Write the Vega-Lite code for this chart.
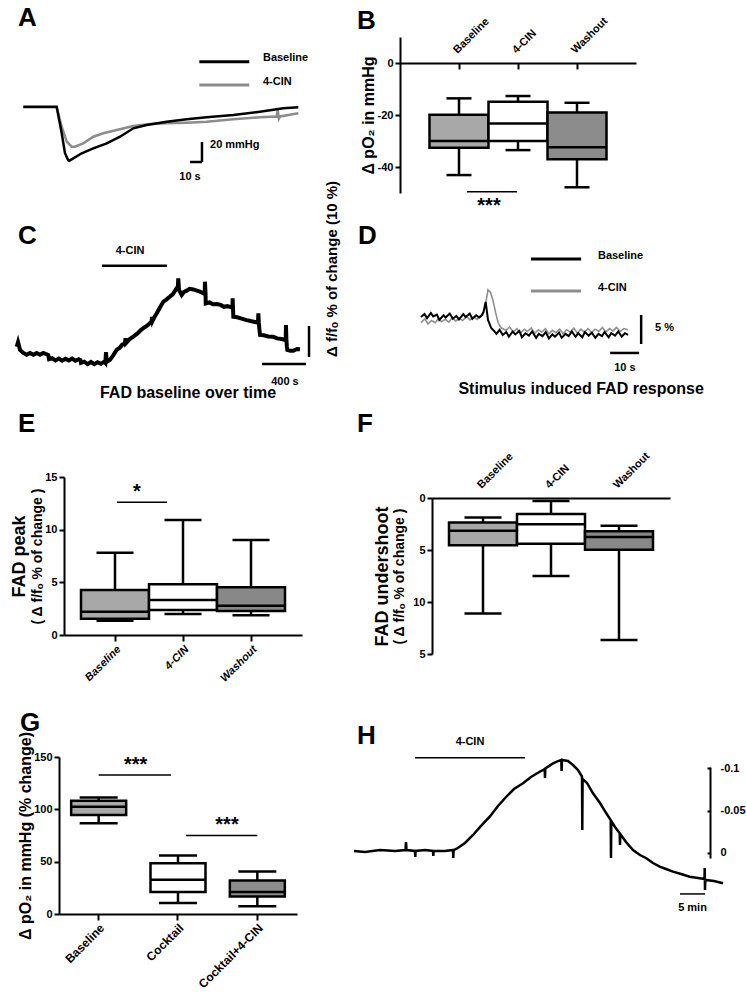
{
"$schema":"https://vega.github.io/schema/vega-lite/v6.json",
"padding":0,
"background":"white",
"columns":2,
"spacing":0,
"bounds":"flush",
"resolve":{"scale":{"color":"independent","fill":"independent","strokeWidth":"independent"}},
"config":{
 "font":"Liberation Sans",
 "view":{"stroke":null},
 "text":{"font":"Liberation Sans","fontWeight":"bold","fontSize":11,"color":"black"},
 "title":{"anchor":"start","frame":"group","baseline":"bottom","fontSize":26,"fontWeight":"bold","font":"Liberation Sans","color":"black"},
 "axis":{"grid":false,"domainColor":"black","domainWidth":2,"tickColor":"black","tickWidth":2,"tickSize":5,"labelColor":"black","labelFont":"Liberation Sans","labelFontSize":11,"labelFontWeight":"bold","labelPadding":2,"titleColor":"black","titleFont":"Liberation Sans","titleFontWeight":"bold","titleFontSize":16,"labelOverlap":false}
},
"concat":[
{
 "width":340,"height":170,
 "title":{"text":"A","dx":18,"offset":-31},
 "encoding":{
  "x":{"field":"t","type":"quantitative","scale":{"domain":[0,230],"range":[23.3,299.3],"nice":false,"zero":false},"axis":null},
  "y":{"field":"v","type":"quantitative","scale":{"domain":[-60,60],"range":[166.7,46.7],"nice":false,"zero":false},"axis":null}},
 "layer":[
  {"data":{"values":[
   {"s":"4-CIN","t":0,"v":-0.5},{"s":"4-CIN","t":27.8,"v":-0.5},{"s":"4-CIN","t":32,"v":-20},{"s":"4-CIN","t":36.2,"v":-35},{"s":"4-CIN","t":40.3,"v":-40},{"s":"4-CIN","t":43,"v":-40},{"s":"4-CIN","t":50,"v":-36.6},{"s":"4-CIN","t":58.3,"v":-30},{"s":"4-CIN","t":66.7,"v":-26.6},{"s":"4-CIN","t":77.8,"v":-23.3},{"s":"4-CIN","t":91.7,"v":-19.3},{"s":"4-CIN","t":105.5,"v":-17.3},{"s":"4-CIN","t":119.5,"v":-16.6},{"s":"4-CIN","t":136.2,"v":-16},{"s":"4-CIN","t":152.8,"v":-15},{"s":"4-CIN","t":175,"v":-12.6},{"s":"4-CIN","t":197.2,"v":-10.6},{"s":"4-CIN","t":211,"v":-9.8},{"s":"4-CIN","t":212,"v":-3.5},{"s":"4-CIN","t":213,"v":-12},{"s":"4-CIN","t":214,"v":-9.8},{"s":"4-CIN","t":229.2,"v":-6.6},
   {"s":"Baseline","t":0,"v":0},{"s":"Baseline","t":27.8,"v":0},{"s":"Baseline","t":32,"v":-26.6},{"s":"Baseline","t":34.7,"v":-46.3},{"s":"Baseline","t":37.3,"v":-53.3},{"s":"Baseline","t":38.3,"v":-54},{"s":"Baseline","t":41.7,"v":-51.6},{"s":"Baseline","t":48.7,"v":-46.6},{"s":"Baseline","t":58.3,"v":-41.6},{"s":"Baseline","t":69.5,"v":-36.6},{"s":"Baseline","t":80.6,"v":-30},{"s":"Baseline","t":91.7,"v":-21.6},{"s":"Baseline","t":102.8,"v":-18.3},{"s":"Baseline","t":119.5,"v":-15},{"s":"Baseline","t":136.2,"v":-12.6},{"s":"Baseline","t":152.8,"v":-10.6},{"s":"Baseline","t":175,"v":-8.3},{"s":"Baseline","t":197.2,"v":-5},{"s":"Baseline","t":216.7,"v":-1.6},{"s":"Baseline","t":229.2,"v":-0.6}]},
   "mark":{"type":"line","strokeWidth":2.5},
   "encoding":{"color":{"field":"s","type":"nominal","scale":{"domain":["Baseline","4-CIN"],"range":["#000000","#8c8c8c"]},"legend":null}}},
  {"data":{"values":[{"s":"Baseline","t":146.7,"t2":188.3,"v":45},{"s":"4-CIN","t":146.7,"t2":188.3,"v":21.7}]},
   "mark":{"type":"rule","strokeWidth":3},
   "encoding":{"x2":{"field":"t2"},"color":{"field":"s","type":"nominal","scale":{"domain":["Baseline","4-CIN"],"range":["#000000","#8c8c8c"]},"legend":null}}},
  {"data":{"values":[{"t":148.9,"v":-35.3,"t2":148.9,"v2":-55.3},{"t":138.9,"v":-55.3,"t2":148.9,"v2":-55.3}]},
   "mark":{"type":"rule","color":"black","strokeWidth":2.5},
   "encoding":{"x2":{"field":"t2"},"y2":{"field":"v2"}}},
  {"data":{"values":[{"t":199.7,"v":48.7,"label":"Baseline"},{"t":199.7,"v":24.7,"label":"4-CIN"},{"t":155.6,"v":-38.3,"label":"20 mmHg"}]},
   "mark":{"type":"text","align":"left"},"encoding":{"text":{"field":"label"}}},
  {"data":{"values":[{"t":138.9,"v":-70.3,"label":"10 s"}]},
   "mark":{"type":"text"},"encoding":{"text":{"field":"label"}}}
 ]
},
{
 "width":406,"height":170,
 "title":{"text":"B","dx":17,"offset":-34},
 "data":{"values":[
  {"g":"Baseline","low":-43.1,"q1":-32.6,"med":-30,"q3":-19.9,"high":-13.6},
  {"g":"4-CIN","low":-33.5,"q1":-30,"med":-23.3,"q3":-14.9,"high":-12.7},
  {"g":"Washout","low":-47.8,"q1":-37,"med":-32.4,"q3":-19,"high":-15.3}]},
 "encoding":{"x":{"field":"g","type":"nominal","scale":{"type":"band","domain":["Baseline","4-CIN","Washout"],"range":[60,296],"paddingInner":0,"paddingOuter":0.5},"axis":null}},
 "resolve":{"axis":{"x":"independent","y":"independent"}},
 "layer":[
  {"mark":{"type":"rule","color":"black","strokeWidth":2.5},
   "encoding":{
    "x":{"field":"g","type":"nominal","scale":{"type":"band","domain":["Baseline","4-CIN","Washout"],"range":[60,296],"paddingInner":0,"paddingOuter":0.5},
      "axis":{"orient":"top","offset":-63,"title":null,"labelAngle":-45,"tickSize":-6,"labelPadding":14}},
    "y":{"field":"low","type":"quantitative","scale":{"domain":[-50,10],"range":[193,37],"nice":false,"zero":false},
     "axis":{"orient":"left","offset":-60,"values":[0,-20,-40],"title":"Δ pO₂ in mmHg","titlePadding":1,"labelExpr":"replace(datum.label,'\u2212','-')"}},"y2":{"field":"high"}}},
  {"mark":{"type":"tick","color":"black","opacity":1,"size":25,"thickness":2.5},
   "encoding":{"y":{"field":"low","type":"quantitative","scale":{"domain":[-50,10],"range":[193,37],"nice":false,"zero":false},"axis":null}}},
  {"mark":{"type":"tick","color":"black","opacity":1,"size":25,"thickness":2.5},
   "encoding":{"y":{"field":"high","type":"quantitative","scale":{"domain":[-50,10],"range":[193,37],"nice":false,"zero":false},"axis":null}}},
  {"mark":{"type":"bar","stroke":"black","strokeWidth":2.5,"opacity":1},
   "encoding":{"y":{"field":"q1","type":"quantitative","scale":{"domain":[-50,10],"range":[193,37],"nice":false,"zero":false},"axis":null},"y2":{"field":"q3"},
    "fill":{"field":"g","type":"nominal","scale":{"domain":["Baseline","4-CIN","Washout"],"range":["#a8a8a8","#ffffff","#8c8c8c"]},"legend":null}}},
  {"mark":{"type":"tick","color":"black","opacity":1,"size":59,"thickness":2.5},
   "encoding":{"y":{"field":"med","type":"quantitative","scale":{"domain":[-50,10],"range":[193,37],"nice":false,"zero":false},"axis":null}}},
  {"data":{"values":[{"a":"Baseline","b":"4-CIN","v":-49.5}]},
   "mark":{"type":"rule","color":"black","strokeWidth":1.5,"xOffset":8,"x2Offset":-1},
   "encoding":{"x":{"field":"a","type":"nominal","scale":{"type":"band","domain":["Baseline","4-CIN","Washout"],"range":[60,296],"paddingInner":0,"paddingOuter":0.5},"axis":null},"x2":{"field":"b"},
    "y":{"field":"v","type":"quantitative","scale":{"domain":[-50,10],"range":[193,37],"nice":false,"zero":false},"axis":null}}},
  {"data":{"values":[{"a":"Baseline","label":"***","v":-55}]},
   "mark":{"type":"text","fontSize":20,"dx":30},
   "encoding":{"x":{"field":"a","type":"nominal","scale":{"type":"band","domain":["Baseline","4-CIN","Washout"],"range":[60,296],"paddingInner":0,"paddingOuter":0.5},"axis":null},
    "y":{"field":"v","type":"quantitative","scale":{"domain":[-50,10],"range":[193,37],"nice":false,"zero":false},"axis":null},"text":{"field":"label"}}}
 ]
},
{
 "width":340,"height":230,
 "title":{"text":"C","dx":18,"offset":-79},
 "encoding":{
  "x":{"field":"t","type":"quantitative","scale":{"domain":[0,2600],"range":[16.7,304.8],"nice":false,"zero":false},"axis":null},
  "y":{"field":"v","type":"quantitative","scale":{"domain":[0,10],"range":[187,156],"nice":false,"zero":false},"axis":null}},
 "layer":[
  {"data":{"values":[
   {"t":0,"v":3.3},{"t":12,"v":4.8},{"t":30,"v":2.3},{"t":60,"v":1.3},{"t":90,"v":0.7},{"t":120,"v":1.3},{"t":150,"v":0.7},{"t":180,"v":1.3},{"t":210,"v":0.7},{"t":240,"v":1.3},{"t":270,"v":0.9},{"t":285,"v":0.6},{"t":292,"v":-0.7},{"t":320,"v":-0.4},{"t":350,"v":-1.1},{"t":380,"v":-0.5},{"t":410,"v":-1.2},{"t":440,"v":-0.6},{"t":470,"v":-1.1},{"t":500,"v":-0.5},{"t":530,"v":-1.2},{"t":560,"v":-0.7},{"t":575,"v":-1.0},{"t":580,"v":-1.9},{"t":610,"v":-1.5},{"t":640,"v":-2.3},{"t":670,"v":-1.6},{"t":700,"v":-2.3},{"t":730,"v":-1.7},{"t":760,"v":-2.2},{"t":790,"v":-1.5},{"t":800,"v":-1.9},{"t":806,"v":1.6},{"t":812,"v":-1.6},{"t":842,"v":-0.9},{"t":872,"v":0.6},{"t":902,"v":2.3},{"t":930,"v":3.0},{"t":950,"v":3.9},{"t":977,"v":4.4},{"t":982,"v":6.1},{"t":986,"v":4.5},{"t":1020,"v":5.8},{"t":1052,"v":6.6},{"t":1090,"v":7.6},{"t":1120,"v":8.7},{"t":1143,"v":9.3},{"t":1180,"v":10.2},{"t":1210,"v":11.2},{"t":1218,"v":11.4},{"t":1221,"v":12.9},{"t":1226,"v":11.6},{"t":1245,"v":13.0},{"t":1264,"v":14.1},{"t":1290,"v":15.8},{"t":1323,"v":17.8},{"t":1350,"v":18.5},{"t":1384,"v":19.5},{"t":1410,"v":20.3},{"t":1444,"v":22.2},{"t":1455,"v":22.8},{"t":1458,"v":25.4},{"t":1465,"v":21.6},{"t":1489,"v":20.0},{"t":1510,"v":21.0},{"t":1534,"v":21.4},{"t":1560,"v":22.0},{"t":1594,"v":21.8},{"t":1620,"v":21.5},{"t":1654,"v":21.1},{"t":1690,"v":20.5},{"t":1697,"v":20.6},{"t":1699,"v":24.3},{"t":1704,"v":20.6},{"t":1706,"v":17.3},{"t":1740,"v":17.6},{"t":1770,"v":17.0},{"t":1805,"v":17.1},{"t":1840,"v":16.8},{"t":1870,"v":16.2},{"t":1900,"v":16.4},{"t":1940,"v":16.0},{"t":1947,"v":16.1},{"t":1949,"v":18.9},{"t":1952,"v":15.8},{"t":1955,"v":13.0},{"t":1990,"v":12.8},{"t":2030,"v":12.4},{"t":2076,"v":11.9},{"t":2110,"v":11.6},{"t":2150,"v":11.3},{"t":2178,"v":11.1},{"t":2181,"v":14.1},{"t":2185,"v":11.0},{"t":2190,"v":9.0},{"t":2196,"v":7.1},{"t":2230,"v":7.0},{"t":2270,"v":6.6},{"t":2316,"v":6.5},{"t":2350,"v":6.0},{"t":2390,"v":5.8},{"t":2421,"v":5.5},{"t":2428,"v":5.6},{"t":2430,"v":10.3},{"t":2434,"v":5.4},{"t":2438,"v":3.5},{"t":2442,"v":2.3},{"t":2470,"v":2.0},{"t":2496,"v":2.0},{"t":2530,"v":2.6},{"t":2557,"v":2.5}]},
   "mark":{"type":"line","color":"black","strokeWidth":4}},
  {"data":{"values":[{"t":770,"v":29.4,"t2":1357,"v2":29.4},{"t":2638,"v":0,"t2":2638,"v2":10},{"t":2214,"v":-2.26,"t2":2611,"v2":-2.26}]},
   "mark":{"type":"rule","color":"black","strokeWidth":2.5},
   "encoding":{"x2":{"field":"t2"},"y2":{"field":"v2"}}},
  {"data":{"values":[{"t":1023,"v":34.2,"label":"4-CIN"},{"t":2421,"v":-8.06,"label":"400 s"}]},
   "mark":{"type":"text"},"encoding":{"text":{"field":"label"}}},
  {"data":{"values":[{"t":1546,"v":-11.6,"label":"FAD baseline over time"}]},
   "mark":{"type":"text","fontSize":16},"encoding":{"text":{"field":"label"}}},
  {"data":{"values":[{"t":2846,"v":28.4,"label":"Δ f/fₒ % of change (10 %)"}]},
   "mark":{"type":"text","fontSize":15,"angle":270},"encoding":{"text":{"field":"label"}}}
 ]
},
{
 "width":406,"height":230,
 "title":{"text":"D","dx":18,"offset":-79},
 "encoding":{
  "x":{"field":"t","type":"quantitative","scale":{"domain":[0,71.4],"range":[81,288.1],"nice":false,"zero":false},"axis":null},
  "y":{"field":"v","type":"quantitative","scale":{"domain":[0,5],"range":[147,118],"nice":false,"zero":false},"axis":null}},
 "layer":[
  {"data":{"values":[
   {"s":"4-CIN","t":0,"v":-1.0},{"s":"4-CIN","t":1.3,"v":-0.3},{"s":"4-CIN","t":2.4,"v":-1.2},{"s":"4-CIN","t":3.6,"v":-0.6},{"s":"4-CIN","t":4.9,"v":-1.0},{"s":"4-CIN","t":6.1,"v":-0.2},{"s":"4-CIN","t":7.0,"v":-0.8},{"s":"4-CIN","t":8.4,"v":-0.4},{"s":"4-CIN","t":9.6,"v":-0.9},{"s":"4-CIN","t":10.8,"v":-0.1},{"s":"4-CIN","t":11.9,"v":-0.7},{"s":"4-CIN","t":13.3,"v":-0.3},{"s":"4-CIN","t":14.4,"v":-0.6},{"s":"4-CIN","t":15.7,"v":0.1},{"s":"4-CIN","t":16.9,"v":-0.5},{"s":"4-CIN","t":18.2,"v":0.0},{"s":"4-CIN","t":19.4,"v":-0.4},{"s":"4-CIN","t":20.4,"v":0.2},{"s":"4-CIN","t":21.2,"v":0.3},{"s":"4-CIN","t":22,"v":1.5},{"s":"4-CIN","t":23.1,"v":4.7},{"s":"4-CIN","t":24,"v":4.2},{"s":"4-CIN","t":24.8,"v":2.9},{"s":"4-CIN","t":25.7,"v":0.8},{"s":"4-CIN","t":26.6,"v":-1.0},{"s":"4-CIN","t":27.7,"v":-1.9},{"s":"4-CIN","t":29.3,"v":-2.3},{"s":"4-CIN","t":30.5,"v":-1.7},{"s":"4-CIN","t":31.8,"v":-2.6},{"s":"4-CIN","t":33.1,"v":-2.0},{"s":"4-CIN","t":34.2,"v":-2.8},{"s":"4-CIN","t":35.6,"v":-2.1},{"s":"4-CIN","t":36.7,"v":-2.5},{"s":"4-CIN","t":38.0,"v":-1.9},{"s":"4-CIN","t":39.2,"v":-2.8},{"s":"4-CIN","t":40.5,"v":-2.2},{"s":"4-CIN","t":41.6,"v":-2.6},{"s":"4-CIN","t":42.9,"v":-2.0},{"s":"4-CIN","t":44.1,"v":-2.9},{"s":"4-CIN","t":45.3,"v":-2.3},{"s":"4-CIN","t":46.5,"v":-2.7},{"s":"4-CIN","t":47.8,"v":-2.1},{"s":"4-CIN","t":49.0,"v":-2.9},{"s":"4-CIN","t":50.2,"v":-2.2},{"s":"4-CIN","t":51.5,"v":-2.6},{"s":"4-CIN","t":52.7,"v":-1.9},{"s":"4-CIN","t":53.9,"v":-2.8},{"s":"4-CIN","t":55.1,"v":-2.1},{"s":"4-CIN","t":56.3,"v":-2.6},{"s":"4-CIN","t":57.6,"v":-2.0},{"s":"4-CIN","t":58.8,"v":-2.7},{"s":"4-CIN","t":60.0,"v":-2.1},{"s":"4-CIN","t":61.3,"v":-2.5},{"s":"4-CIN","t":62.5,"v":-1.8},{"s":"4-CIN","t":63.7,"v":-2.6},{"s":"4-CIN","t":65.0,"v":-2.0},{"s":"4-CIN","t":66.2,"v":-2.4},{"s":"4-CIN","t":67.4,"v":-1.8},{"s":"4-CIN","t":68.7,"v":-2.5},{"s":"4-CIN","t":69.9,"v":-2.0},{"s":"4-CIN","t":71.4,"v":-2.2},
   {"s":"Baseline","t":0,"v":0},{"s":"Baseline","t":1.2,"v":0.5},{"s":"Baseline","t":2.1,"v":-0.2},{"s":"Baseline","t":3.4,"v":0.7},{"s":"Baseline","t":4.2,"v":0.1},{"s":"Baseline","t":5.5,"v":0.4},{"s":"Baseline","t":6.3,"v":-0.5},{"s":"Baseline","t":7.8,"v":0.3},{"s":"Baseline","t":8.5,"v":-0.1},{"s":"Baseline","t":9.9,"v":0.6},{"s":"Baseline","t":11.0,"v":-0.3},{"s":"Baseline","t":12.2,"v":0.2},{"s":"Baseline","t":13.1,"v":-0.4},{"s":"Baseline","t":14.6,"v":0.5},{"s":"Baseline","t":15.4,"v":0.0},{"s":"Baseline","t":16.8,"v":0.6},{"s":"Baseline","t":17.7,"v":-0.3},{"s":"Baseline","t":19.0,"v":0.3},{"s":"Baseline","t":20.1,"v":-0.1},{"s":"Baseline","t":20.8,"v":0.2},{"s":"Baseline","t":21.5,"v":0.8},{"s":"Baseline","t":22.3,"v":2.6},{"s":"Baseline","t":23.1,"v":-0.5},{"s":"Baseline","t":24.2,"v":-1.9},{"s":"Baseline","t":25.2,"v":-2.4},{"s":"Baseline","t":26,"v":-2.9},{"s":"Baseline","t":27.1,"v":-2.2},{"s":"Baseline","t":28.2,"v":-3.1},{"s":"Baseline","t":29.4,"v":-2.6},{"s":"Baseline","t":30.3,"v":-3.4},{"s":"Baseline","t":31.6,"v":-2.5},{"s":"Baseline","t":32.5,"v":-3.0},{"s":"Baseline","t":33.9,"v":-2.4},{"s":"Baseline","t":34.8,"v":-3.5},{"s":"Baseline","t":36.0,"v":-2.8},{"s":"Baseline","t":37.2,"v":-3.2},{"s":"Baseline","t":38.3,"v":-2.5},{"s":"Baseline","t":39.7,"v":-3.6},{"s":"Baseline","t":40.6,"v":-2.9},{"s":"Baseline","t":41.9,"v":-3.3},{"s":"Baseline","t":43.0,"v":-2.6},{"s":"Baseline","t":44.1,"v":-3.7},{"s":"Baseline","t":45.3,"v":-3.0},{"s":"Baseline","t":46.2,"v":-3.4},{"s":"Baseline","t":47.6,"v":-2.7},{"s":"Baseline","t":48.5,"v":-3.6},{"s":"Baseline","t":49.8,"v":-2.9},{"s":"Baseline","t":50.9,"v":-3.3},{"s":"Baseline","t":52.0,"v":-2.5},{"s":"Baseline","t":53.3,"v":-3.4},{"s":"Baseline","t":54.2,"v":-2.8},{"s":"Baseline","t":55.6,"v":-3.5},{"s":"Baseline","t":56.5,"v":-2.6},{"s":"Baseline","t":57.8,"v":-3.2},{"s":"Baseline","t":58.9,"v":-2.7},{"s":"Baseline","t":60.1,"v":-3.6},{"s":"Baseline","t":61.2,"v":-2.9},{"s":"Baseline","t":62.4,"v":-3.3},{"s":"Baseline","t":63.3,"v":-2.6},{"s":"Baseline","t":64.7,"v":-3.5},{"s":"Baseline","t":65.6,"v":-2.8},{"s":"Baseline","t":66.9,"v":-3.2},{"s":"Baseline","t":68.0,"v":-2.5},{"s":"Baseline","t":69.2,"v":-3.4},{"s":"Baseline","t":70.3,"v":-2.8},{"s":"Baseline","t":71.4,"v":-3.1}]},
   "mark":{"type":"line"},
   "encoding":{"color":{"field":"s","type":"nominal","scale":{"domain":["Baseline","4-CIN"],"range":["#000000","#8f8f8f"]},"legend":null},
    "strokeWidth":{"field":"s","type":"nominal","scale":{"domain":["Baseline","4-CIN"],"range":[2,1.6]},"legend":null}}},
  {"data":{"values":[{"s":"Baseline","t":37.9,"t2":55.2,"v":10.0},{"s":"4-CIN","t":37.9,"t2":55.2,"v":4.48}]},
   "mark":{"type":"rule","strokeWidth":3},
   "encoding":{"x2":{"field":"t2"},"color":{"field":"s","type":"nominal","scale":{"domain":["Baseline","4-CIN"],"range":["#000000","#8f8f8f"]},"legend":null}}},
  {"data":{"values":[{"t":75.9,"v":0.34,"t2":75.9,"v2":-4.66},{"t":65.2,"v":-6.2,"t2":75.2,"v2":-6.2}]},
   "mark":{"type":"rule","color":"black","strokeWidth":2.5},
   "encoding":{"x2":{"field":"t2"},"y2":{"field":"v2"}}},
  {"data":{"values":[{"t":61.0,"v":10.5,"label":"Baseline"},{"t":61.0,"v":5.0,"label":"4-CIN"},{"t":80.7,"v":-1.9,"label":"5 %"}]},
   "mark":{"type":"text","align":"left"},"encoding":{"text":{"field":"label"}}},
  {"data":{"values":[{"t":70.3,"v":-8.8,"label":"10 s"}]},
   "mark":{"type":"text"},"encoding":{"text":{"field":"label"}}},
  {"data":{"values":[{"t":55.2,"v":-12.4,"label":"Stimulus induced FAD response"}]},
   "mark":{"type":"text","fontSize":16},"encoding":{"text":{"field":"label"}}}
 ]
},
{
 "width":340,"height":305,
 "title":{"text":"E","dx":18,"offset":-37},
 "data":{"values":[
  {"g":"Baseline","low":1.36,"q1":1.55,"med":2.21,"q3":4.27,"high":7.82},
  {"g":"4-CIN","low":1.99,"q1":2.37,"med":3.32,"q3":4.81,"high":10.92},
  {"g":"Washout","low":1.87,"q1":2.28,"med":2.78,"q3":4.53,"high":9.02}]},
 "encoding":{"x":{"field":"g","type":"nominal","scale":{"type":"band","domain":["Baseline","4-CIN","Washout"],"range":[64,302],"paddingInner":0,"paddingOuter":0.25},"axis":null}},
 "resolve":{"axis":{"x":"independent","y":"independent"}},
 "layer":[
  {"mark":{"type":"rule","color":"black","strokeWidth":2.5},
   "encoding":{
    "x":{"field":"g","type":"nominal","scale":{"type":"band","domain":["Baseline","4-CIN","Washout"],"range":[64,302],"paddingInner":0,"paddingOuter":0.25},
      "axis":{"orient":"bottom","offset":-70,"title":null,"labelAngle":-45,"tickSize":6,"labelFontStyle":"italic"}},
    "y":{"field":"low","type":"quantitative","scale":{"domain":[0,15],"range":[235,77],"nice":false,"zero":false},
     "axis":{"orient":"left","offset":-64,"values":[0,5,10,15],"title":"( Δ f/fₒ % of change )","titleFontSize":14,"titlePadding":0}},"y2":{"field":"high"}}},
  {"mark":{"type":"tick","color":"black","opacity":1,"size":37,"thickness":2.5},
   "encoding":{"y":{"field":"low","type":"quantitative","scale":{"domain":[0,15],"range":[235,77],"nice":false,"zero":false},
     "axis":{"orient":"left","offset":-64,"labels":false,"ticks":false,"domain":false,"title":"FAD peak","titleFontSize":18,"titlePadding":36}}}},
  {"mark":{"type":"tick","color":"black","opacity":1,"size":37,"thickness":2.5},
   "encoding":{"y":{"field":"high","type":"quantitative","scale":{"domain":[0,15],"range":[235,77],"nice":false,"zero":false},"axis":null}}},
  {"mark":{"type":"bar","stroke":"black","strokeWidth":2.5,"opacity":1},
   "encoding":{"y":{"field":"q1","type":"quantitative","scale":{"domain":[0,15],"range":[235,77],"nice":false,"zero":false},"axis":null},"y2":{"field":"q3"},
    "fill":{"field":"g","type":"nominal","scale":{"domain":["Baseline","4-CIN","Washout"],"range":["#a8a8a8","#ffffff","#888888"]},"legend":null}}},
  {"mark":{"type":"tick","color":"black","opacity":1,"size":68,"thickness":2.5},
   "encoding":{"y":{"field":"med","type":"quantitative","scale":{"domain":[0,15],"range":[235,77],"nice":false,"zero":false},"axis":null}}},
  {"data":{"values":[{"a":"Baseline","b":"4-CIN","v":12.6}]},
   "mark":{"type":"rule","color":"black","strokeWidth":1.5,"xOffset":2,"x2Offset":-16},
   "encoding":{"x":{"field":"a","type":"nominal","scale":{"type":"band","domain":["Baseline","4-CIN","Washout"],"range":[64,302],"paddingInner":0,"paddingOuter":0.25},"axis":null},"x2":{"field":"b"},
    "y":{"field":"v","type":"quantitative","scale":{"domain":[0,15],"range":[235,77],"nice":false,"zero":false},"axis":null}}},
  {"data":{"values":[{"a":"Baseline","label":"*","v":13.6}]},
   "mark":{"type":"text","fontSize":20,"dx":22},
   "encoding":{"x":{"field":"a","type":"nominal","scale":{"type":"band","domain":["Baseline","4-CIN","Washout"],"range":[64,302],"paddingInner":0,"paddingOuter":0.25},"axis":null},
    "y":{"field":"v","type":"quantitative","scale":{"domain":[0,15],"range":[235,77],"nice":false,"zero":false},"axis":null},"text":{"field":"label"}}}
 ]
},
{
 "width":406,"height":305,
 "title":{"text":"F","dx":17,"offset":-37},
 "data":{"values":[
  {"g":"Baseline","low":1.88,"q1":2.36,"med":3.15,"q3":4.55,"high":11.1},
  {"g":"4-CIN","low":0.29,"q1":1.53,"med":2.52,"q3":4.4,"high":7.5},
  {"g":"Washout","low":2.67,"q1":3.2,"med":3.75,"q3":4.97,"high":13.66}]},
 "encoding":{"x":{"field":"g","type":"nominal","scale":{"type":"band","domain":["Baseline","4-CIN","Washout"],"range":[92,330],"paddingInner":0,"paddingOuter":0.25},"axis":null}},
 "resolve":{"axis":{"x":"independent","y":"independent"}},
 "layer":[
  {"mark":{"type":"rule","color":"black","strokeWidth":2.5},
   "encoding":{
    "x":{"field":"g","type":"nominal","scale":{"type":"band","domain":["Baseline","4-CIN","Washout"],"range":[92,330],"paddingInner":0,"paddingOuter":0.25},
      "axis":{"orient":"top","offset":-98,"title":null,"labelAngle":-45,"ticks":false,"labelPadding":8}},
    "y":{"field":"low","type":"quantitative","scale":{"domain":[0,15],"range":[98,254],"nice":false,"zero":false},
     "axis":{"orient":"left","offset":-92,"values":[0,5,10,15],"labelExpr":"datum.value == 15 ? '5' : datum.label","title":"( Δ f/fₒ % of change )","titleFontSize":14,"titlePadding":6}},"y2":{"field":"high"}}},
  {"mark":{"type":"tick","color":"black","opacity":1,"size":37,"thickness":2.5},
   "encoding":{"y":{"field":"low","type":"quantitative","scale":{"domain":[0,15],"range":[98,254],"nice":false,"zero":false},
     "axis":{"orient":"left","offset":-92,"labels":false,"ticks":false,"domain":false,"title":"FAD undershoot","titleFontSize":18,"titlePadding":41}}}},
  {"mark":{"type":"tick","color":"black","opacity":1,"size":37,"thickness":2.5},
   "encoding":{"y":{"field":"high","type":"quantitative","scale":{"domain":[0,15],"range":[98,254],"nice":false,"zero":false},"axis":null}}},
  {"mark":{"type":"bar","stroke":"black","strokeWidth":2.5,"opacity":1},
   "encoding":{"y":{"field":"q1","type":"quantitative","scale":{"domain":[0,15],"range":[98,254],"nice":false,"zero":false},"axis":null},"y2":{"field":"q3"},
    "fill":{"field":"g","type":"nominal","scale":{"domain":["Baseline","4-CIN","Washout"],"range":["#a8a8a8","#ffffff","#888888"]},"legend":null}}},
  {"mark":{"type":"tick","color":"black","opacity":1,"size":68,"thickness":2.5},
   "encoding":{"y":{"field":"med","type":"quantitative","scale":{"domain":[0,15],"range":[98,254],"nice":false,"zero":false},"axis":null}}}
 ]
},
{
 "width":340,"height":289,
 "title":{"text":"G","dx":20,"offset":-31},
 "data":{"values":[
  {"g":"Baseline","low":86.7,"q1":94.6,"med":102.5,"q3":108.2,"high":111.4},
  {"g":"Cocktail","low":10.5,"q1":21,"med":32.7,"q3":48.6,"high":55.8},
  {"g":"Cocktail+4-CIN","low":7.3,"q1":16.8,"med":21,"q3":32,"high":40.6}]},
 "encoding":{"x":{"field":"g","type":"nominal","scale":{"type":"band","domain":["Baseline","Cocktail","Cocktail+4-CIN"],"range":[59,297],"paddingInner":0,"paddingOuter":0},"axis":null}},
 "resolve":{"axis":{"x":"independent","y":"independent"}},
 "layer":[
  {"mark":{"type":"rule","color":"black","strokeWidth":2.5},
   "encoding":{
    "x":{"field":"g","type":"nominal","scale":{"type":"band","domain":["Baseline","Cocktail","Cocktail+4-CIN"],"range":[59,297],"paddingInner":0,"paddingOuter":0},
      "axis":{"orient":"bottom","offset":-80,"title":null,"labelAngle":-45,"tickSize":6,"labelFontSize":12}},
    "y":{"field":"low","type":"quantitative","scale":{"domain":[0,150],"range":[209,52],"nice":false,"zero":false},
     "axis":{"orient":"left","offset":-59,"values":[0,50,100,150],"title":"Δ pO₂ in mmHg (% change)","titlePadding":0}},"y2":{"field":"high"}}},
  {"mark":{"type":"tick","color":"black","opacity":1,"size":38,"thickness":2.5},
   "encoding":{"y":{"field":"low","type":"quantitative","scale":{"domain":[0,150],"range":[209,52],"nice":false,"zero":false},"axis":null}}},
  {"mark":{"type":"tick","color":"black","opacity":1,"size":38,"thickness":2.5},
   "encoding":{"y":{"field":"high","type":"quantitative","scale":{"domain":[0,150],"range":[209,52],"nice":false,"zero":false},"axis":null}}},
  {"mark":{"type":"bar","stroke":"black","strokeWidth":2.5,"opacity":1,"width":55},
   "encoding":{"y":{"field":"q1","type":"quantitative","scale":{"domain":[0,150],"range":[209,52],"nice":false,"zero":false},"axis":null},"y2":{"field":"q3"},
    "fill":{"field":"g","type":"nominal","scale":{"domain":["Baseline","Cocktail","Cocktail+4-CIN"],"range":["#a8a8a8","#ffffff","#8c8c8c"]},"legend":null}}},
  {"mark":{"type":"tick","color":"black","opacity":1,"size":55,"thickness":2.5},
   "encoding":{"y":{"field":"med","type":"quantitative","scale":{"domain":[0,150],"range":[209,52],"nice":false,"zero":false},"axis":null}}},
  {"data":{"values":[{"a":"Baseline","b":"Cocktail","v":132.7}]},
   "mark":{"type":"rule","color":"black","strokeWidth":1.5,"x2Offset":-7},
   "encoding":{"x":{"field":"a","type":"nominal","scale":{"type":"band","domain":["Baseline","Cocktail","Cocktail+4-CIN"],"range":[59,297],"paddingInner":0,"paddingOuter":0},"axis":null},"x2":{"field":"b"},
    "y":{"field":"v","type":"quantitative","scale":{"domain":[0,150],"range":[209,52],"nice":false,"zero":false},"axis":null}}},
  {"data":{"values":[{"a":"Cocktail","b":"Cocktail+4-CIN","v":74.9}]},
   "mark":{"type":"rule","color":"black","strokeWidth":1.5,"xOffset":8},
   "encoding":{"x":{"field":"a","type":"nominal","scale":{"type":"band","domain":["Baseline","Cocktail","Cocktail+4-CIN"],"range":[59,297],"paddingInner":0,"paddingOuter":0},"axis":null},"x2":{"field":"b"},
    "y":{"field":"v","type":"quantitative","scale":{"domain":[0,150],"range":[209,52],"nice":false,"zero":false},"axis":null}}},
  {"data":{"values":[{"a":"Baseline","label":"***","v":142}]},
   "mark":{"type":"text","fontSize":20,"dx":37},
   "encoding":{"x":{"field":"a","type":"nominal","scale":{"type":"band","domain":["Baseline","Cocktail","Cocktail+4-CIN"],"range":[59,297],"paddingInner":0,"paddingOuter":0},"axis":null},
    "y":{"field":"v","type":"quantitative","scale":{"domain":[0,150],"range":[209,52],"nice":false,"zero":false},"axis":null},"text":{"field":"label"}}},
  {"data":{"values":[{"a":"Cocktail","label":"***","v":85}]},
   "mark":{"type":"text","fontSize":20,"dx":49},
   "encoding":{"x":{"field":"a","type":"nominal","scale":{"type":"band","domain":["Baseline","Cocktail","Cocktail+4-CIN"],"range":[59,297],"paddingInner":0,"paddingOuter":0},"axis":null},
    "y":{"field":"v","type":"quantitative","scale":{"domain":[0,150],"range":[209,52],"nice":false,"zero":false},"axis":null},"text":{"field":"label"}}}
 ]
},
{
 "width":406,"height":289,
 "title":{"text":"H","dx":17,"offset":-44},
 "encoding":{
  "x":{"field":"t","type":"quantitative","scale":{"domain":[0,75],"range":[10,385],"nice":false,"zero":false},"axis":null},
  "y":{"field":"v","type":"quantitative","scale":{"domain":[-0.1012,0.0059],"range":[62,153],"nice":false,"zero":false},
   "axis":{"orient":"right","offset":-36,"values":[0,-0.05,-0.1],"format":".2~f","title":null,"tickSize":-3,"labelPadding":13,"labelExpr":"replace(datum.label,'\u2212','-')"}}},
 "layer":[
  {"data":{"values":[
   {"t":0.8,"v":-0.0024},{"t":3,"v":-0.0012},{"t":6,"v":-0.0035},{"t":9,"v":-0.0024},{"t":11.1,"v":-0.0035},{"t":11.2,"v":-0.0129},{"t":11.3,"v":-0.0035},{"t":13,"v":-0.0024},{"t":13.06,"v":0.0047},{"t":13.12,"v":-0.0024},{"t":15,"v":-0.0035},{"t":16.6,"v":-0.0024},{"t":16.66,"v":0.0035},{"t":16.72,"v":-0.0024},{"t":19,"v":-0.0024},{"t":20.6,"v":-0.0035},{"t":20.66,"v":0.0059},{"t":20.72,"v":-0.0035},{"t":21.26,"v":-0.0047},{"t":23,"v":-0.0118},{"t":24.6,"v":-0.0212},{"t":26.2,"v":-0.0318},{"t":27.94,"v":-0.0427},{"t":29.6,"v":-0.0553},{"t":31.26,"v":-0.0662},{"t":32.8,"v":-0.0753},{"t":34.6,"v":-0.082},{"t":36.2,"v":-0.0894},{"t":37.94,"v":-0.0956},{"t":38.94,"v":-0.0988},{"t":39,"v":-0.0882},{"t":39.06,"v":-0.0994},{"t":40.6,"v":-0.1055},{"t":41.6,"v":-0.1082},{"t":42.26,"v":-0.1094},{"t":42.32,"v":-0.0965},{"t":42.4,"v":-0.1094},{"t":43.6,"v":-0.1082},{"t":44.6,"v":-0.1035},{"t":45.6,"v":-0.0976},{"t":46.4,"v":-0.0898},{"t":46.46,"v":-0.0271},{"t":46.52,"v":-0.0871},{"t":47.4,"v":-0.0824},{"t":48.6,"v":-0.0702},{"t":50,"v":-0.0588},{"t":51.26,"v":-0.0467},{"t":52.14,"v":-0.0388},{"t":52.2,"v":0.0059},{"t":52.26,"v":-0.0376},{"t":53,"v":-0.0306},{"t":53.94,"v":-0.0232},{"t":54,"v":-0.0094},{"t":54.06,"v":-0.0224},{"t":55.2,"v":-0.0129},{"t":56.6,"v":-0.0035},{"t":58,"v":0.0024},{"t":59.26,"v":0.0062},{"t":60.6,"v":0.0118},{"t":61.94,"v":0.0161},{"t":63.2,"v":0.0188},{"t":64.6,"v":0.022},{"t":66.2,"v":0.0247},{"t":67.94,"v":0.0279},{"t":69.6,"v":0.0294},{"t":70.9,"v":0.0306},{"t":70.94,"v":0.0176},{"t":71,"v":0.0435},{"t":71.06,"v":0.0318},{"t":72.8,"v":0.0329},{"t":74.6,"v":0.0356}]},
   "mark":{"type":"line","color":"black","strokeWidth":2.5}},
  {"data":{"values":[{"t":13,"t2":35,"v":-0.1121},{"t":66,"t2":71,"v":0.0482}]},
   "mark":{"type":"rule","color":"black","strokeWidth":1.5},
   "encoding":{"x2":{"field":"t2"}}},
  {"data":{"values":[{"t":24,"v":-0.1306,"label":"4-CIN"},{"t":68.5,"v":0.0647,"label":"5 min"}]},
   "mark":{"type":"text"},"encoding":{"text":{"field":"label"}}}
 ]
}
]
}
